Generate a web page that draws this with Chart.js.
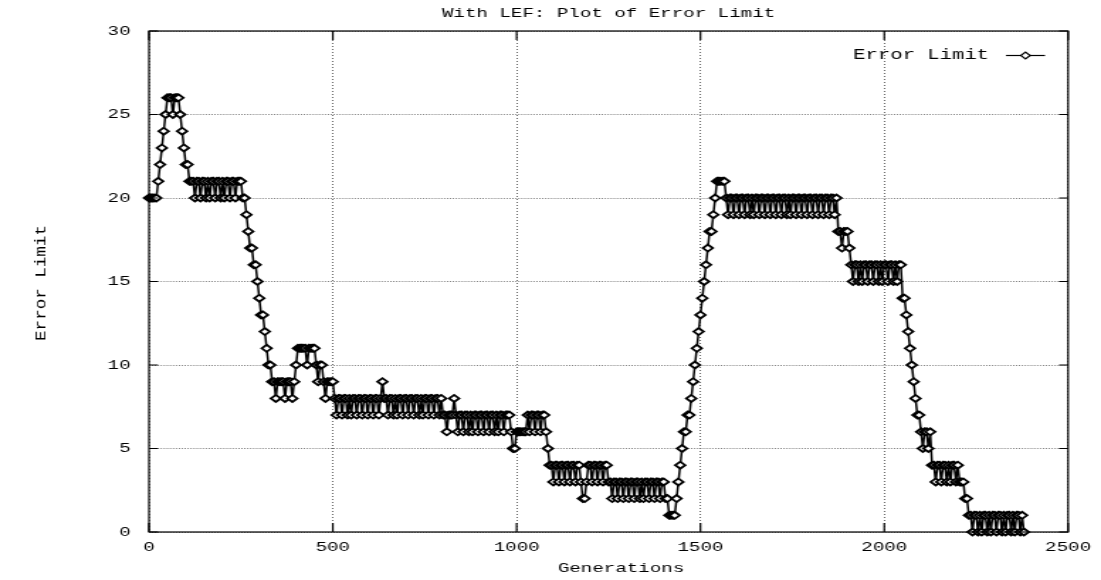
<!DOCTYPE html>
<html>
<head>
<meta charset="utf-8">
<script src="https://cdn.jsdelivr.net/npm/chart.js@4.4.1/dist/chart.umd.min.js"></script>
<style>
  html, body { margin: 0; padding: 0; background: #fff; overflow: hidden; }
  #plot { display: block; }
</style>
</head>
<body>
<!-- gnuplot-style output: the drawing surface is rendered narrow and stretched wide -->
<canvas id="plot" width="776" height="580" style="width:1101px;height:580px"></canvas>
<script>
const chartTitle = 'With LEF: Plot of Error Limit';
const xTitle = 'Generations';
const yTitle = 'Error Limit';
const seriesName = 'Error Limit';
const xTickValues = [0, 500, 1000, 1500, 2000, 2500];
const yTickValues = [0, 5, 10, 15, 20, 25, 30];
const sampleEvery = 5; // generations between logged values

// error limit logged every 5 generations, 20 values per row (0-95, 100-195, ...)
const errorLimit = [
  20,20,20,20,20,21,22,23,24,25,26,26,26,25,26,26,26,25,24,23,
  22,22,21,21,21,20,21,21,20,21,21,20,21,20,21,21,20,21,21,20,
  21,20,21,21,20,21,21,20,21,21,21,20,20,19,18,17,17,16,16,15,
  14,13,13,12,11,10,10,9,9,8,9,9,9,9,8,9,9,9,8,9,
  10,11,11,11,11,11,10,11,11,11,11,10,9,10,10,9,8,9,9,9,
  9,8,7,8,8,7,8,8,7,8,7,8,8,7,8,8,7,8,8,7,
  8,8,7,8,8,7,8,9,8,8,7,8,8,7,8,7,8,8,7,8,
  8,7,8,8,7,8,8,7,8,7,8,8,7,8,8,7,8,8,7,8,
  7,7,6,7,7,7,8,7,6,7,7,6,7,7,6,7,6,7,7,6,
  7,7,6,7,7,6,7,7,6,7,6,7,7,6,7,7,7,6,5,5,
  6,6,6,6,6,6,7,6,7,7,6,7,7,6,7,7,6,5,4,4,
  3,4,4,3,4,4,3,4,4,3,4,4,3,4,4,3,2,2,3,4,
  4,3,4,4,3,4,4,3,4,4,3,3,2,3,3,2,3,3,2,3,
  3,2,3,3,2,3,3,2,3,2,3,3,2,3,3,2,3,3,2,3,
  3,2,2,1,1,1,1,2,3,4,5,6,6,7,7,8,9,10,11,12,
  13,14,15,16,17,18,18,19,20,21,21,21,21,21,20,19,20,20,19,20,
  20,19,20,20,19,20,20,19,20,19,20,20,19,20,20,19,20,20,19,20,
  20,19,20,20,19,20,20,19,20,19,20,20,19,20,20,19,20,20,19,20,
  20,19,20,20,19,20,20,19,20,20,19,20,20,19,20,18,18,17,18,18,
  18,17,16,15,16,16,15,16,15,16,16,15,16,16,15,16,16,15,16,15,
  16,16,15,16,16,15,16,15,16,16,14,14,13,12,11,10,9,8,7,7,
  6,5,6,6,5,6,4,4,3,4,4,3,4,4,3,4,3,4,4,3,
  4,3,3,3,2,2,1,1,0,1,1,0,1,0,1,1,0,1,0,1,
  1,0,1,1,0,1,0,1,1,0,1,0,1,1,0,1,0
];

const canvas = document.getElementById('plot');
const stretch = 1101 / canvas.width;           // horizontal display stretch
const FONT = "'Liberation Mono', 'DejaVu Sans Mono', monospace";
const FONT_SIZE = 13.5;
const INK = '#000';

const points = errorLimit.map((v, i) => ({ x: i * sampleEvery, y: v }));

function drawDiamond(ctx, x, y, r) {
  ctx.beginPath();
  ctx.moveTo(x - r, y);
  ctx.lineTo(x, y - r);
  ctx.lineTo(x + r, y);
  ctx.lineTo(x, y + r);
  ctx.closePath();
  ctx.fillStyle = '#fff';
  ctx.fill();
  ctx.stroke();
}

// border box, inward tick marks, axis labels and the key
const gnuplotFrame = {
  id: 'gnuplotFrame',
  afterDatasetsDraw(chart) {
    const { ctx, chartArea: a, scales: { x, y } } = chart;
    ctx.save();
    ctx.strokeStyle = INK;
    ctx.lineWidth = 1.2;
    ctx.strokeRect(a.left, a.top, a.right - a.left, a.bottom - a.top);
    const tickV = 9, tickH = 9 / stretch;
    ctx.beginPath();
    xTickValues.forEach(v => {
      const px = x.getPixelForValue(v);
      ctx.moveTo(px, a.bottom); ctx.lineTo(px, a.bottom - tickV);
      ctx.moveTo(px, a.top); ctx.lineTo(px, a.top + tickV);
    });
    yTickValues.forEach(v => {
      const py = y.getPixelForValue(v);
      ctx.moveTo(a.left, py); ctx.lineTo(a.left + tickH, py);
      ctx.moveTo(a.right, py); ctx.lineTo(a.right - tickH, py);
    });
    ctx.stroke();
    ctx.restore();
  },
  afterDraw(chart) {
    const { ctx } = chart;
    ctx.save();
    ctx.fillStyle = INK;
    ctx.font = FONT_SIZE + 'px ' + FONT;
    ctx.textAlign = 'center';
    ctx.textBaseline = 'middle';

    // x axis label
    ctx.fillText(xTitle, 621 / stretch, 568);

    // y axis label, running bottom to top
    ctx.save();
    ctx.translate(42 / stretch, 283);
    ctx.rotate(-Math.PI / 2);
    ctx.scale(1.3, 0.75);
    ctx.fillText(yTitle, 0, 0);
    ctx.restore();

    // key: text, then line sample with its point
    const keyY = 55;
    const textRight = 989 / stretch;
    const lineL = 1006 / stretch, lineR = 1045 / stretch;
    ctx.font = '14.5px ' + FONT;
    ctx.textAlign = 'right';
    ctx.fillText(seriesName, textRight, keyY);
    ctx.strokeStyle = INK;
    ctx.lineWidth = 1.2;
    ctx.beginPath();
    ctx.moveTo(lineL, keyY + 0.5);
    ctx.lineTo(lineR, keyY + 0.5);
    ctx.stroke();
    drawDiamond(ctx, (lineL + lineR) / 2, keyY + 0.5, 3.3);
    ctx.restore();
  }
};

new Chart(canvas, {
  type: 'line',
  data: {
    datasets: [{
      label: seriesName,
      data: points,
      borderColor: INK,
      borderWidth: 1.5,
      tension: 0,
      pointStyle: 'rectRot',
      pointRadius: 3.5,
      pointBorderWidth: 1.8,
      pointBorderColor: INK,
      pointBackgroundColor: '#fff',
      clip: false
    }]
  },
  options: {
    responsive: false,
    animation: false,
    devicePixelRatio: 1,
    layout: { padding: { left: 0, right: canvas.width - 1071 / stretch, top: 0, bottom: 0 } },
    plugins: {
      legend: { display: false },
      tooltip: { enabled: false },
      title: {
        display: true,
        text: chartTitle,
        fullSize: false,
        color: INK,
        font: { family: FONT, size: FONT_SIZE, weight: 'normal', lineHeight: 1.2 },
        padding: { top: 5, bottom: 31 - 5 - FONT_SIZE * 1.2 }
      }
    },
    scales: {
      x: {
        type: 'linear',
        min: 0,
        max: 2500,
        afterBuildTicks: s => { s.ticks = xTickValues.map(v => ({ value: v })); },
        afterFit: s => { s.height = 580 - 532; },
        grid: { color: '#666', lineWidth: 1, drawTicks: false },
        border: { display: false, dash: [1, 2] },
        ticks: {
          color: INK, padding: 7, maxRotation: 0,
          font: { family: FONT, size: FONT_SIZE },
          callback: v => String(v)
        },
        title: { display: false }
      },
      y: {
        type: 'linear',
        min: 0,
        max: 30,
        afterBuildTicks: s => { s.ticks = yTickValues.map(v => ({ value: v })); },
        afterFit: s => { s.width = 149 / stretch; },
        grid: { color: '#666', lineWidth: 1, drawTicks: false },
        border: { display: false, dash: [0.8, 1.3] },
        ticks: {
          color: INK, padding: 13,
          font: { family: FONT, size: FONT_SIZE },
          callback: v => String(v)
        },
        title: { display: false }
      }
    }
  },
  plugins: [gnuplotFrame]
});
</script>
</body>
</html>
